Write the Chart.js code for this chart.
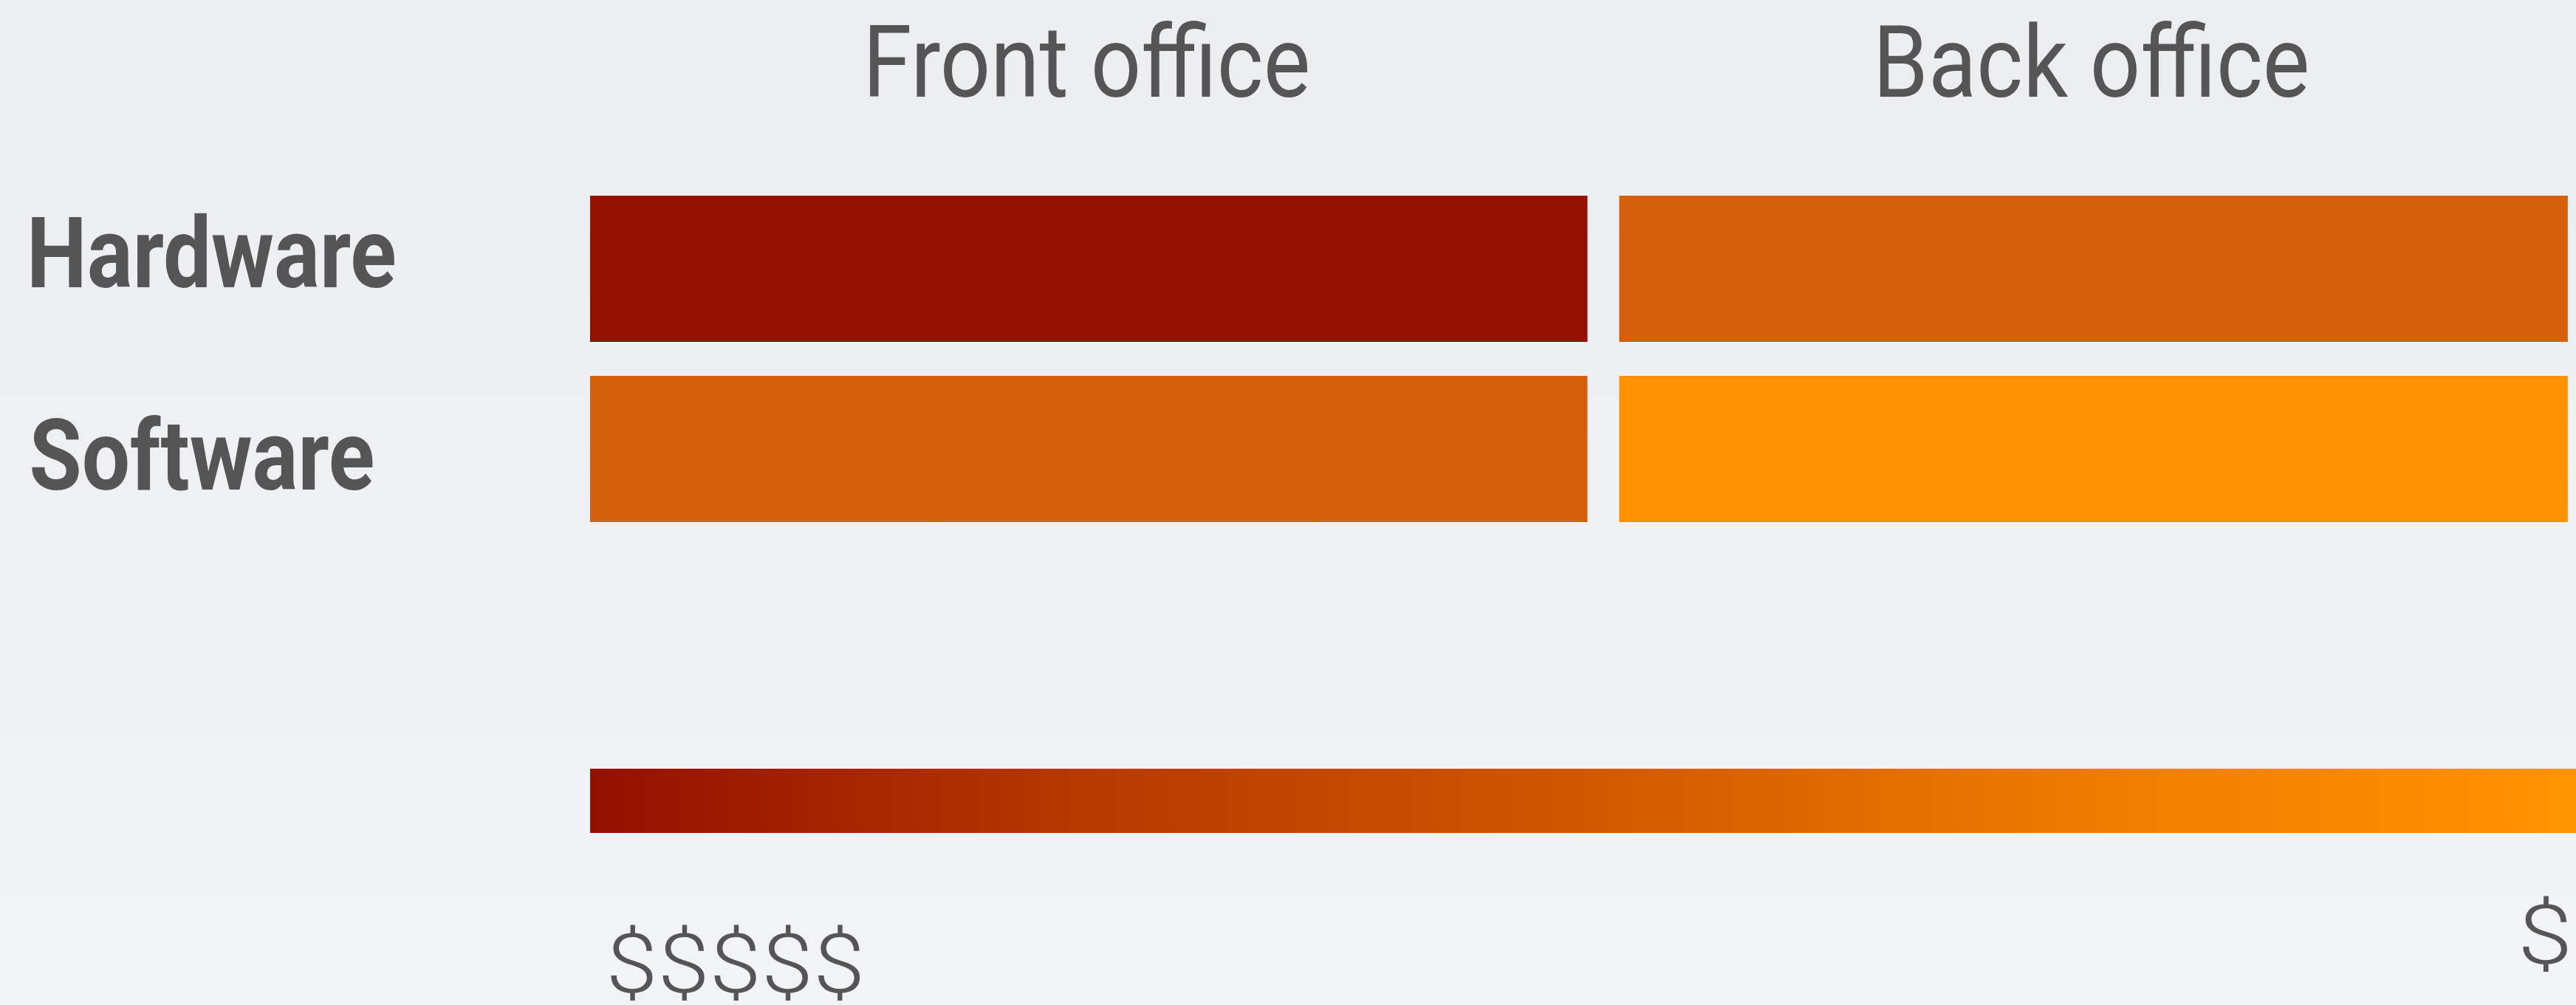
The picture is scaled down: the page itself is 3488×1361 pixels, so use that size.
<!DOCTYPE html>
<html>
<head>
<meta charset="utf-8">
<script src="https://cdn.jsdelivr.net/npm/chart.js@4"></script>
<style>
  html, body { margin: 0; padding: 0; }
  body {
    width: 3488px; height: 1361px; overflow: hidden;
    background: linear-gradient(180deg, #ecedf0 0%, #eff0f3 50%, #f2f3f6 100%);
  }
  #c { display: block; width: 3488px; height: 1361px; }
</style>
</head>
<body>
<canvas id="c" width="3488" height="1361"></canvas>
<script>
// ---- data ----
const rows = ['Hardware', 'Software'];
const columns = ['Front office', 'Back office'];
// cost level per cell (5 = $$$$$, 1 = $)
const frontOfficeCost = [5, 3];
const backOfficeCost = [3, 1];
const costScaleLabels = ['$$$$$', '$'];
const costColors = { 5: '#921100', 3: '#d4600e', 1: '#ff9200' };
const gradientStops = ['#921000', '#b53a00', '#d05800', '#ec7c00', '#ff9400'];

const costs = [frontOfficeCost, backOfficeCost];
const TEXT = '#555555';

// transparent borders create the gaps between cells
const cellBorders = [
  { left: 0, right: 21.5, top: 0, bottom: 0 },
  { left: 21.5, right: 66, top: 0, bottom: 0 }
];

const datasets = columns.map((col, ci) => ({
  label: col,
  data: rows.map(() => [ci, ci + 1]),
  backgroundColor: rows.map((r, ri) => costColors[costs[ci][ri]]),
  borderColor: 'rgba(0,0,0,0)',
  borderWidth: cellBorders[ci],
  borderSkipped: false,
  grouped: false,
  categoryPercentage: 1,
  barPercentage: 0.811
}));

function drawText(ctx, text, opts) {
  ctx.save();
  ctx.font = opts.font;
  ctx.fillStyle = TEXT;
  ctx.textBaseline = 'alphabetic';
  ctx.textAlign = 'left';
  const m = ctx.measureText(text);
  const sx = opts.sx || 1;
  const w = (m.actualBoundingBoxLeft + m.actualBoundingBoxRight) * sx;
  let left;
  if (opts.center !== undefined) left = opts.center - w / 2;
  else if (opts.right !== undefined) left = opts.right - w;
  else left = opts.left;
  let baseline = opts.baseline;
  if (opts.inkTop !== undefined) baseline = opts.inkTop + m.actualBoundingBoxAscent;
  ctx.translate(left + m.actualBoundingBoxLeft * sx, baseline);
  ctx.scale(sx, 1);
  ctx.fillText(text, 0, 0);
  ctx.restore();
}

const decor = {
  id: 'decor',
  afterDraw(chart) {
    const ctx = chart.ctx;
    const area = chart.chartArea;
    const yS = chart.scales.y;

    // column titles centred over the visible cells
    columns.forEach((col, ci) => {
      const el = chart.getDatasetMeta(ci).data[0];
      const b = cellBorders[ci];
      const cx = (el.base + el.x) / 2 + (b.left - b.right) / 2;
      drawText(ctx, col, { font: '400 135px Roboto', sx: 0.89, center: cx, baseline: 131 });
    });

    // row labels
    rows.forEach((r, ri) => {
      const cy = yS.getPixelForValue(ri);
      drawText(ctx, r, { font: '700 133px Roboto', sx: 0.87, left: 43, baseline: cy + 25 + 30 * ri });
    });

    // colour scale bar
    const top = 1041, h = 87;
    const x0 = area.left, x1 = chart.width;
    const g = ctx.createLinearGradient(x0, 0, x1, 0);
    gradientStops.forEach((c, i) => g.addColorStop(i / (gradientStops.length - 1), c));
    ctx.save();
    ctx.fillStyle = g;
    ctx.fillRect(x0, top, x1 - x0, h);
    ctx.restore();

    drawText(ctx, costScaleLabels[0], { font: '300 112px Roboto', sx: 1.13, left: 827, inkTop: 1252 });
    drawText(ctx, costScaleLabels[1], { font: '300 112px Roboto', sx: 1.2, right: 3476, inkTop: 1213 });
  }
};

new Chart(document.getElementById('c'), {
  type: 'bar',
  data: { labels: rows, datasets },
  options: {
    indexAxis: 'y',
    responsive: false,
    animation: false,
    devicePixelRatio: 1,
    layout: { padding: { left: 799, right: 0, top: 242, bottom: 631 } },
    scales: {
      // the grid continues past the right edge of the slide; only ~1.96 columns are visible
      x: { type: 'linear', min: 0, max: 1.96, display: false },
      y: { type: 'category', display: false, offset: true }
    },
    plugins: { legend: { display: false }, tooltip: { enabled: false } }
  },
  plugins: [decor]
});
</script>
</body>
</html>
